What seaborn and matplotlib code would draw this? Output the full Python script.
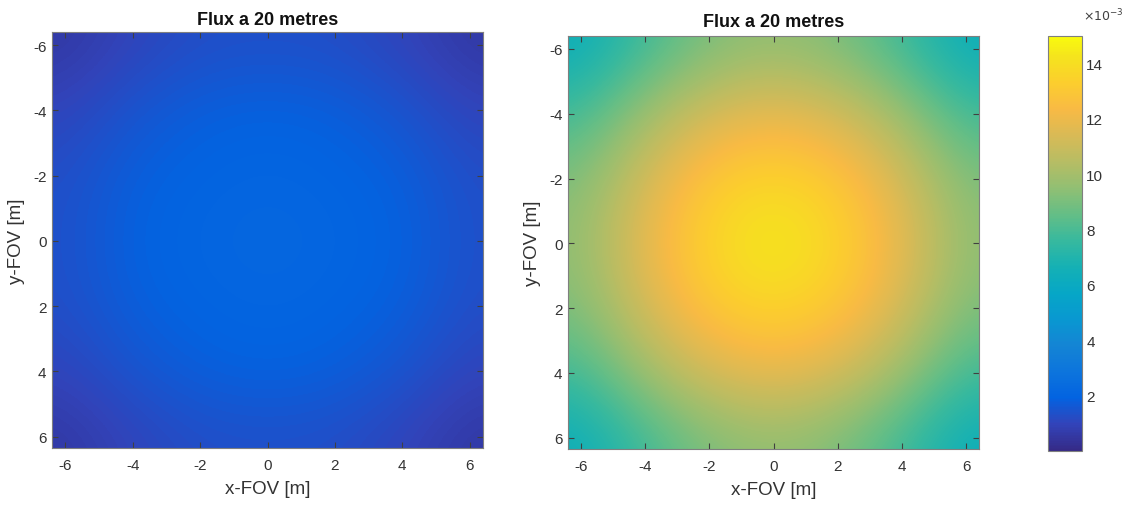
import numpy as np
import matplotlib
matplotlib.use("Agg")
import matplotlib.pyplot as plt
from matplotlib.colors import LinearSegmentedColormap
import seaborn as sns

# ---- data (flux, units of 1e-3), grid sampled every 2 m ----
x_pos = [-6, -4, -2, 0, 2, 4, 6]
y_pos = [-6, -4, -2, 0, 2, 4, 6]

flux_left = [
    [0.55, 1.00, 1.30, 1.35, 1.30, 1.00, 0.55],
    [1.00, 1.50, 1.80, 1.90, 1.80, 1.50, 1.00],
    [1.30, 1.80, 2.00, 2.10, 2.00, 1.80, 1.30],
    [1.35, 1.90, 2.10, 2.20, 2.10, 1.90, 1.35],
    [1.30, 1.80, 2.00, 2.10, 2.00, 1.80, 1.30],
    [1.00, 1.50, 1.80, 1.90, 1.80, 1.50, 1.00],
    [0.55, 1.00, 1.30, 1.35, 1.30, 1.00, 0.55],
]
flux_right = [
    [6.3, 7.8, 9.1, 9.6, 9.1, 7.8, 6.3],
    [7.8, 9.8, 11.3, 11.9, 11.3, 9.8, 7.8],
    [9.1, 11.3, 13.1, 13.7, 13.1, 11.3, 9.1],
    [9.5, 11.9, 13.7, 14.6, 13.7, 11.9, 9.5],
    [9.1, 11.3, 13.1, 13.7, 13.1, 11.3, 9.1],
    [7.8, 9.8, 11.3, 11.9, 11.3, 9.8, 7.8],
    [6.3, 7.8, 9.1, 9.6, 9.1, 7.8, 6.3],
]
axis_ticks = [-6, -4, -2, 0, 2, 4, 6]
cbar_ticks = [2, 4, 6, 8, 10, 12, 14]
clim = (0.0, 15.0)
title = "Flux a 20 metres"
xlabel = "x-FOV [m]"
ylabel = "y-FOV [m]"

# ---- parula colormap ----
parula_anchors = [
    (0.2081, 0.1663, 0.5292), (0.1959, 0.2645, 0.7279), (0.0117, 0.3875, 0.8820),
    (0.0498, 0.4586, 0.8641), (0.0793, 0.5200, 0.8312), (0.0343, 0.5966, 0.8199),
    (0.0228, 0.6535, 0.7768), (0.0843, 0.6928, 0.7062), (0.2178, 0.7250, 0.6193),
    (0.3953, 0.7459, 0.5244), (0.5709, 0.7485, 0.4494), (0.7184, 0.7411, 0.3905),
    (0.8507, 0.7299, 0.3360), (0.9739, 0.7314, 0.2666), (0.9880, 0.8066, 0.1794),
    (0.9589, 0.8949, 0.1132), (0.9763, 0.9831, 0.0538),
]
parula_pos = [0, 4, 8, 12, 16, 20, 24, 28, 32, 36, 40, 44, 48, 52, 56, 60, 63]
parula = LinearSegmentedColormap.from_list(
    "parula", [(p / 63, c) for p, c in zip(parula_pos, parula_anchors)], N=256)

sns.set_theme(style="white")
plt.rcParams['font.family'] = ['Liberation Sans', 'DejaVu Sans']
text_col = "#333333"

fig = plt.figure(figsize=(11.26, 5.06), dpi=100)
W, H = 1126, 506
def box(l, t, r, b):
    return [l / W, 1 - b / H, (r - l) / W, (b - t) / H]

ax1 = fig.add_axes(box(52, 33, 483, 449))
ax2 = fig.add_axes(box(568, 37, 979, 450))
cax = fig.add_axes(box(1048, 37, 1082, 452))

step = x_pos[1] - x_pos[0]
extent = (x_pos[0] - step / 2, x_pos[-1] + step / 2,
          y_pos[-1] + step / 2, y_pos[0] - step / 2)

for ax, data, tpad in [(ax1, flux_left, 6), (ax2, flux_right, 7)]:
    im = ax.imshow(np.array(data) * 1e-3, cmap=parula, vmin=clim[0] * 1e-3,
                   vmax=clim[1] * 1e-3, extent=extent, interpolation="bicubic",
                   aspect="auto")
    ax.set_xlim(-6.4, 6.4)
    ax.set_ylim(6.35, -6.4)
    ax.set_xticks(axis_ticks)
    ax.set_yticks(axis_ticks)
    ax.set_xticklabels([str(t) for t in axis_ticks])
    ax.set_yticklabels([str(t) for t in axis_ticks])
    ax.tick_params(direction="in", length=4, width=0.8, colors="#404040",
                   labelcolor=text_col, labelsize=11, top=True, right=True,
                   bottom=True, left=True)
    ax.tick_params(axis="x", pad=7)
    ax.tick_params(axis="y", pad=4)
    for s in ax.spines.values():
        s.set_color("#7f7f7f")
        s.set_linewidth(0.8)
    ax.set_title(title, fontsize=13, fontweight="bold", color="#111111", pad=tpad)
    ax.set_xlabel(xlabel, fontsize=13.5, color=text_col, labelpad=6)
    ax.set_ylabel(ylabel, fontsize=13.5, color=text_col, labelpad=6)

cb = fig.colorbar(im, cax=cax)
cb.set_ticks([t * 1e-3 for t in cbar_ticks])
cb.set_ticklabels([str(t) for t in cbar_ticks])
cax.tick_params(direction="in", length=4, width=0.8, colors="#404040",
                labelcolor=text_col, labelsize=11, pad=3)
cb.outline.set_edgecolor("#7f7f7f")
cb.outline.set_linewidth(0.8)
fig.text(1083 / W, 1 - 16 / H, r"$\times10^{-3}$", fontsize=9, color="#404040",
         ha="left", va="center")

fig.savefig("out.png", dpi=100)
